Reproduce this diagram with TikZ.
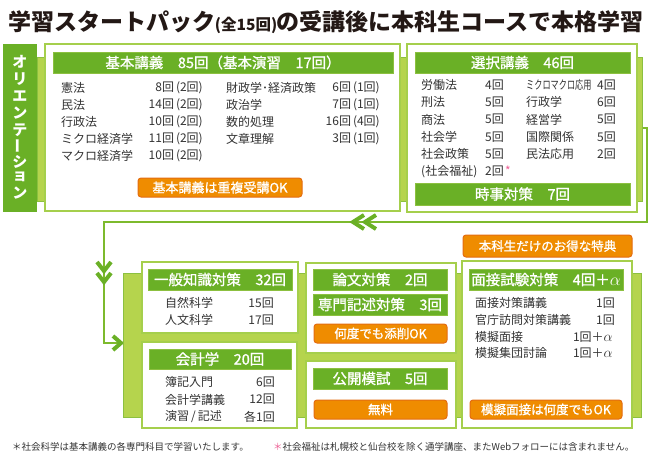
\documentclass[tikz,border=0pt]{standalone}
\usepackage{fontspec}
\setmainfont{Noto Sans CJK JP}
\newfontface\medface{Noto Sans CJK JP}[FakeBold=1.2]
\usepackage{graphicx}
\usetikzlibrary{calc}
\definecolor{darkg}{RGB}{106,176,38}
\definecolor{midg}{RGB}{140,192,64}
\definecolor{lightg}{RGB}{181,212,77}
\definecolor{boxg}{RGB}{165,207,76}
\definecolor{lineg}{RGB}{125,186,45}
\definecolor{orangef}{RGB}{239,140,0}
\definecolor{oranged}{RGB}{228,108,16}
\definecolor{txt}{RGB}{51,51,51}
\definecolor{titlec}{RGB}{35,24,21}
\definecolor{pinkc}{RGB}{238,98,150}
\newcommand\myhf{\fontsize{14.5}{16}\medface}
\newcommand\myof{\fontsize{12.5}{14}\medface}
\newcommand\mybf{\fontsize{12}{14}\selectfont}
\newcommand\myalpha{{\fontsize{15}{15}\selectfont$\alpha$}}
\newcommand\rectnode[7]{\node[#1, minimum width={(#5-#3)*1pt}, minimum height={(#6-#4)*1pt}, inner sep=0pt, anchor=center] (#2) at ({(#3+#5)/2},{(#4+#6)/2}) {#7};}
\tikzset{
  box/.style={draw=boxg, line width=1.8pt, fill=white},
  head/.style={fill=darkg, draw=midg, line width=0.5pt, text=white, font=\myhf},
  obox/.style={fill=orangef, draw=oranged, line width=1pt, rounded corners=3pt, text=white, font=\myof},
  band/.style={fill=lightg, draw=midg, line width=0.8pt},
  body/.style={text=txt, font=\mybf, inner sep=0pt},
  conn/.style={draw=lineg, line width=1.5pt},
  chev/.style={draw=darkg, line width=4pt, miter limit=10},
  otext/.style={text=white, font=\fontsize{15}{16}\selectfont\bfseries, inner sep=0pt},
  foot/.style={text=txt, font=\fontsize{9.5}{11}\selectfont, inner sep=0pt},
  ttl/.style={text=titlec, font=\fontsize{23}{24}\selectfont\bfseries, inner sep=0pt},
}
\begin{document}
\begin{tikzpicture}[x=1pt,y=-1pt]
\useasboundingbox (0,0) rectangle (650,464);
\fill[white] (0,0) rectangle (650,464);

% title
\node[ttl, anchor=base west] (t1) at (8,30) {学習スタートパック};
\node[ttl, anchor=base east] (t3) at (644,30) {の受講後に本科生コースで本格学習};
\node[ttl, font=\fontsize{15.5}{17}\selectfont\bfseries, anchor=base] (t2) at ($(t1.base east)!0.5!(t3.base west)$) {(全15回)};

% connector
\coordinate (p0) at (642,128);
\coordinate (p1) at (647,128);
\coordinate (p2) at (647,222);
\coordinate (p3) at (104,222);
\coordinate (p4) at (104,343);
\coordinate (p5) at (120,343);
\draw[conn] (p0) -- (p1) -- (p2) -- (p3) -- (p4) -- (p5);
\draw[chev] (364,215) -- (353,222) -- (364,229);
\draw[chev] (376,215) -- (365,222) -- (376,229);
\draw[chev] (97,262) -- (104,271) -- (111,262);
\draw[chev] (97,273) -- (104,282) -- (111,273);
\draw[chev] (113,336) -- (121,343) -- (113,350);

% bands
\rectnode{band}{band1}{37}{57}{642}{201}{}
\rectnode{band}{band2}{123}{273}{641}{417}{}

% orientation column
\rectnode{fill=darkg}{ori}{3}{44}{37}{212}{}
\foreach \c/\yy [count=\i] in {オ/62,リ/79,エ/96,ン/113,テ/130,{\rotatebox{90}{ー}}/146,シ/161.5,ョ/177,ン/193}
  {\node[otext] (o\i) at (20,\yy) {\c};}

% kihon box
\rectnode{box}{kihon}{45}{44}{400}{211}{}
\rectnode{head}{kihonh}{53}{52}{393}{73}{基本講義　85回（基本演習　17回）}
\rectnode{obox, font=\fontsize{13}{14}\medface}{kihono}{138}{178}{302}{197}{基本講義は重複受講OK}
\foreach \lab/\num [count=\i] in {憲法/8回\,(2回),民法/14回\,(2回),行政法/10回\,(2回),ミクロ経済学/11回\,(2回),マクロ経済学/10回\,(2回)}
  {\node[body, anchor=west] (kl\i) at (61,{88+17*(\i-1)}) {\lab};
   \node[body, anchor=east] (kn\i) at (203,{88+17*(\i-1)}) {\num};}
\foreach \lab/\num [count=\i] in {財政学･経済政策/6回\,(1回),政治学/7回\,(1回),数的処理/16回\,(4回),文章理解/3回\,(1回)}
  {\node[body, anchor=west] (kr\i) at (226,{88+17*(\i-1)}) {\lab};
   \node[body, anchor=east] (km\i) at (380,{88+17*(\i-1)}) {\num};}

% sentaku box
\rectnode{box}{sen}{407}{44}{637}{212}{}
\rectnode{head}{senh}{415}{52}{630}{73}{選択講義　46回}
\rectnode{head}{jiji}{415}{183}{630}{205}{時事対策　7回}
\foreach \lab/\num [count=\i] in {労働法/4回,刑法/5回,商法/5回,社会学/5回,社会政策/5回,{(社会福祉)}/2回}
  {\node[body, anchor=west] (sl\i) at (421,{85+17.3*(\i-1)}) {\lab};
   \node[body, anchor=east] (sn\i) at (504,{85+17.3*(\i-1)}) {\num};}
\node[body, text=pinkc, anchor=base west] (ast) at (505,175) {*};
\foreach \lab/\num [count=\i] in {{\scalebox{0.68}[1]{ミクロマクロ応用}}/4回,行政学/6回,経営学/5回,国際関係/5回,民法応用/2回}
  {\node[body, anchor=west] (sr\i) at (526,{85+17.3*(\i-1)}) {\lab};
   \node[body, anchor=east] (sm\i) at (616,{85+17.3*(\i-1)}) {\num};}

% ippan chishiki
\rectnode{box}{ippan}{142}{262}{298}{333}{}
\rectnode{head}{ippanh}{148}{269}{292}{290}{一般知識対策　32回}
\foreach \lab/\num [count=\i] in {自然科学/15回,人文科学/17回}
  {\node[body, anchor=west] (il\i) at (165,{303+17*(\i-1)}) {\lab};
   \node[body, anchor=east] (in\i) at (274,{303+17*(\i-1)}) {\num};}

% kaikei
\rectnode{box}{kaikei}{142}{342}{297}{428}{}
\rectnode{head}{kaikeih}{149}{349}{291}{369}{会計学　20回}
\foreach \lab/\num [count=\i] in {簿記入門/6回,会計学講義/12回,{演習\,/\,記述}/各1回}
  {\node[body, anchor=west] (al\i) at (165,{382+17.5*(\i-1)}) {\lab};
   \node[body, anchor=east] (an\i) at (275,{382+17.5*(\i-1)}) {\num};}

% ronbun
\rectnode{box}{ronbun}{306}{263}{456}{353}{}
\rectnode{head}{ronbunh}{313}{269}{447}{290}{論文対策　2回}
\rectnode{head}{senmonh}{313}{294}{447}{315}{専門記述対策　3回}
\rectnode{obox}{tensaku}{314}{324}{447}{343}{何度でも添削OK}

% kokai moshi
\rectnode{box}{moshi}{306}{361}{456}{428}{}
\rectnode{head}{moshih}{313}{368}{447}{389}{公開模試　5回}
\rectnode{obox}{muryo}{314}{400}{447}{419}{無料}

% mensetsu
\rectnode{obox}{tokuten}{463}{235}{632}{257}{本科生だけのお得な特典}
\rectnode{box}{mensetsu}{462}{261}{632}{428}{}
\rectnode{head}{mensetsuh}{469}{269}{623}{290}{面接試験対策　4回＋{\fontsize{17}{17}\selectfont$\alpha$}}
\foreach \lab/\num/\yy [count=\i] in {面接対策講義/1回/303,官庁訪問対策講義/1回/320}
  {\node[body, anchor=west] (ml\i) at (475,\yy) {\lab};
   \node[body, anchor=east] (mn\i) at (615,\yy) {\num};}
\foreach \lab/\num/\yy [count=\i] in {模擬面接/1回＋\myalpha/337,模擬集団討論/1回＋\myalpha/353}
  {\node[body, anchor=west] (mk\i) at (475,\yy) {\lab};
   \node[body, anchor=east] (mm\i) at (613,\yy) {\num};}
\rectnode{obox}{mogi}{470}{400}{622}{419}{模擬面接は何度でもOK}

% footnotes
\node[foot, anchor=west] (f1) at (12,447) {＊社会科学は基本講義の各専門科目で学習いたします。};
\node[foot, anchor=west] (f2) at (273,447) {\textcolor{pinkc}{＊}社会福祉は札幌校と仙台校を除く通学講座、またWebフォローには含まれません。};
\end{tikzpicture}
\end{document}
